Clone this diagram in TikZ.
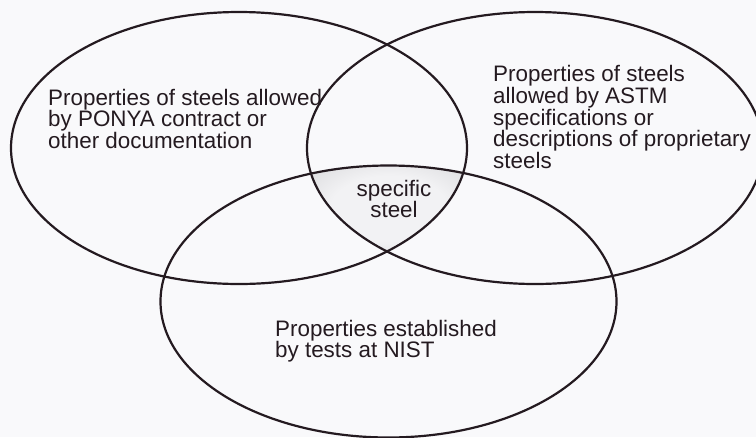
\documentclass[tikz,border=0pt]{standalone}
\usepackage{fontspec}
\setmainfont{Liberation Sans}
\definecolor{bgc}{RGB}{249,249,251}
\definecolor{inkc}{RGB}{36,26,32}
\definecolor{glowin}{RGB}{242,242,244}
\definecolor{glowout}{RGB}{196,196,199}
\pgfdeclareradialshading{glow}{\pgfpoint{0bp}{0bp}}{color(0bp)=(glowin); color(18bp)=(glowin); color(50bp)=(glowout)}
\begin{document}
\begin{tikzpicture}[x=1pt,y=-1pt,
  setline/.style={draw=inkc, line width=2.2pt},
  label/.style={inner sep=0pt, text=inkc, align=left, font=\fontsize{22.4}{21.6}\selectfont},
  ell/.style={x radius=228pt, y radius=136pt}]
\useasboundingbox (0,0) rectangle (756,437);
\fill[bgc] (0,0) rectangle (756,437);
\clip (0,0) rectangle (756,437);
% shaded triple intersection
\begin{scope}
  \clip (239,148) ellipse [ell];
  \clip (535,148) ellipse [ell];
  \clip (388.5,301.5) ellipse [ell];
  \shade[shading=glow] (308,163) rectangle (470,254);
\end{scope}
% ellipses
\draw[setline] (239,148) ellipse [ell];
\draw[setline] (535,148) ellipse [ell];
\draw[setline] (388.5,301.5) ellipse [ell];
% labels
\node[label, anchor=north west] (ponya) at (48,88.7) {Properties of steels allowed\\by PONYA contract or\\other documentation};
\node[label, anchor=north west] (astm) at (493,65.4) {Properties of steels\\allowed by ASTM\\specifications or\\descriptions of proprietary\\steels};
\node[label, anchor=north west] (nist) at (275,319.7) {Properties established\\by tests at NIST};
\node[label, align=center, anchor=north] (spec) at (394,179.7) {specific\\steel};
\end{tikzpicture}
\end{document}
